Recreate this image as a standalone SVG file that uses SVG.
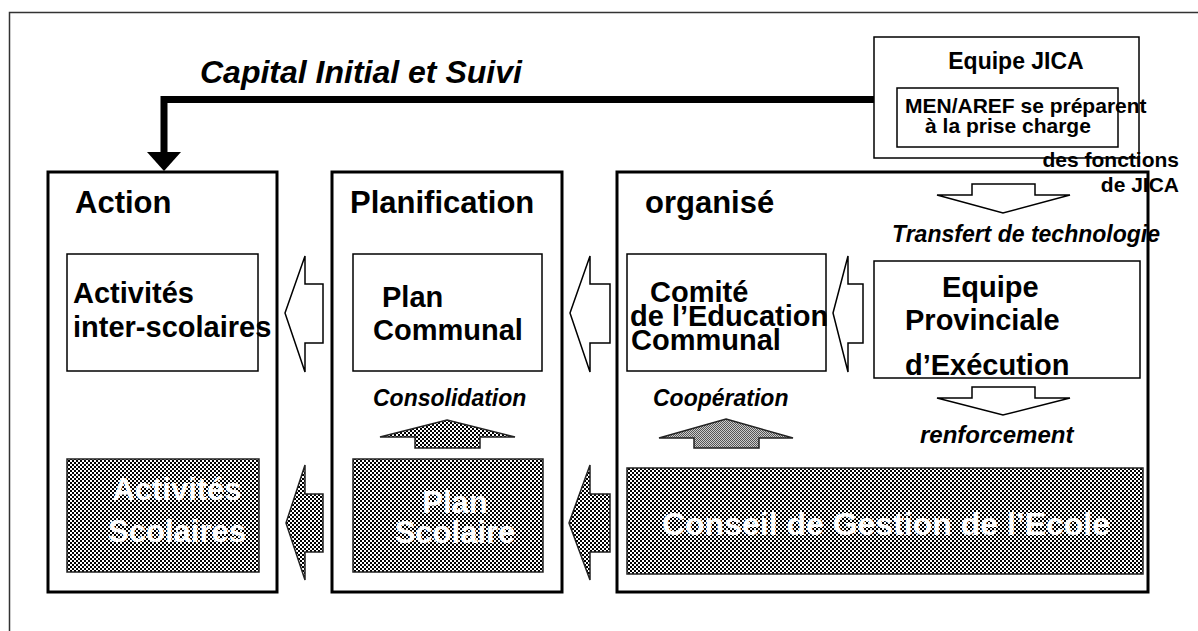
<svg xmlns="http://www.w3.org/2000/svg" width="1198" height="631" viewBox="0 0 1198 631">
  <defs>
    <!-- coarse black/white checker used for the "school" level -->
    <pattern id="checker" width="4" height="4" patternUnits="userSpaceOnUse">
      <rect width="4" height="4" fill="#fff"/>
      <rect x="0" y="0" width="2" height="2" fill="#000"/>
      <rect x="2" y="2" width="2" height="2" fill="#000"/>
    </pattern>
    <!-- fine grey stipple -->
    <pattern id="stipple" width="2" height="2" patternUnits="userSpaceOnUse">
      <rect width="2" height="2" fill="#ccc"/>
      <rect x="0" y="0" width="1" height="1" fill="#555"/>
      <rect x="1" y="1" width="1" height="1" fill="#555"/>
    </pattern>
  </defs>
  <style>
    text { font-family: "Liberation Sans", Arial, sans-serif; font-weight: bold; fill: #000; }
    .head { font-size: 31px; }
    .node { font-size: 29px; }
    .lab { font-size: 23px; font-style: italic; }
    .jica { font-size: 21px; }
    .white { fill: #fff; font-size: 31px; }
    .frame { fill: none; stroke: #000; stroke-width: 3; }
    .box { fill: #fff; stroke: #000; stroke-width: 1.5; }
    .hatch { fill: url(#checker); stroke: #222; stroke-width: 1.5; }
    .hollow { fill: #fff; stroke: #000; stroke-width: 1.5; stroke-linejoin: miter; }
  </style>

  <rect width="1198" height="631" fill="#fff"/>
  <!-- page border -->
  <path d="M9.5,631 V12.5 H1198" fill="none" stroke="#333" stroke-width="1.5"/>

  <!-- level columns -->
  <g id="col-action">
    <rect class="frame" x="48" y="172" width="229" height="420"/>
    <text class="head" x="75" y="213">Action</text>
  </g>
  <g id="col-planification">
    <rect class="frame" x="332" y="172" width="230" height="420"/>
    <text class="head" x="350" y="213">Planification</text>
  </g>
  <g id="col-organise">
    <rect class="frame" x="617" y="172" width="531" height="420"/>
    <text class="head" x="645" y="213">organisé</text>
  </g>

  <!-- JICA team -->
  <g id="jica">
    <rect class="box" x="874" y="37" width="265" height="121"/>
    <text class="jica" x="1016" y="69" text-anchor="middle" style="font-size:23px">Equipe JICA</text>
    <rect class="box" x="897" y="88" width="221" height="59"/>
    <text class="jica" x="905" y="113">MEN/AREF se préparent</text>
    <text class="jica" x="1008" y="133" text-anchor="middle">à la prise charge</text>
    <text class="jica" x="1179" y="167" text-anchor="end">des fonctions</text>
    <text class="jica" x="1179" y="192" text-anchor="end">de JICA</text>
  </g>

  <!-- upper row -->
  <g id="activites-inter">
    <rect class="box" x="67" y="254" width="191" height="117"/>
    <text class="node" x="73" y="303">Activités</text>
    <text class="node" x="73" y="337">inter-scolaires</text>
  </g>
  <g id="plan-communal">
    <rect class="box" x="353" y="254" width="189" height="117"/>
    <text class="node" x="382" y="307">Plan</text>
    <text class="node" x="373" y="340">Communal</text>
  </g>
  <g id="comite">
    <rect class="box" x="627" y="254" width="199" height="117"/>
    <text class="node" x="650" y="302">Comité</text>
    <text class="node" x="630" y="326">de l’Education</text>
    <text class="node" x="631" y="350">Communal</text>
  </g>
  <g id="equipe-provinciale">
    <rect class="box" x="874" y="261" width="266" height="117"/>
    <text class="node" x="942" y="297">Equipe</text>
    <text class="node" x="905" y="330">Provinciale</text>
    <text class="node" x="905" y="375">d’Exécution</text>
  </g>

  <!-- lower row -->
  <g id="activites-scolaires">
    <rect class="hatch" x="67" y="459" width="192" height="113"/>
    <text class="white" x="177" y="500" text-anchor="middle">Activités</text>
    <text class="white" x="177" y="542" text-anchor="middle">Scolaires</text>
  </g>
  <g id="plan-scolaire">
    <rect class="hatch" x="353" y="459" width="190" height="113"/>
    <text class="white" x="455" y="513" text-anchor="middle">Plan</text>
    <text class="white" x="455" y="543" text-anchor="middle">Scolaire</text>
  </g>
  <g id="conseil">
    <rect class="hatch" x="627" y="468" width="516" height="106"/>
    <text class="white" x="886" y="535" text-anchor="middle" style="font-size:32px">Conseil de Gestion de l’Ecole</text>
  </g>

  <!-- connectors -->
  <g id="connectors">
    <!-- Capital Initial et Suivi -->
    <path d="M874,99.5 H164 V154" fill="none" stroke="#000" stroke-width="7"/>
    <polygon points="147,152 181,152 164,171" fill="#000"/>
    <text class="lab" x="200" y="83" style="font-size:32px">Capital Initial et Suivi</text>

    <!-- hollow left arrows, upper row -->
    <polygon class="hollow" points="285,313 305,256 305,284 323,284 323,343 305,343 305,372"/>
    <polygon class="hollow" points="570,313 590,256 590,284 610,284 610,343 590,343 590,372"/>
    <polygon class="hollow" points="833,313 848,256 848,284 863,284 863,343 848,343 848,372"/>

    <!-- hatched left arrows, lower row -->
    <polygon class="hatch" points="286,523 305,465 305,494 323,494 323,552 305,552 305,580"/>
    <polygon class="hatch" points="569,523 590,465 590,494 610,494 610,552 590,552 590,580"/>

    <!-- upward arrows -->
    <polygon class="hatch" points="447,420 515,437 480,437 480,448 415,448 415,437 380,437"/>
    <text class="lab" x="373" y="406">Consolidation</text>
    <polygon points="726,419 793,438 759,438 759,448 694,448 694,438 659,438" fill="url(#stipple)" stroke="#222" stroke-width="1.5"/>
    <text class="lab" x="653" y="406">Coopération</text>

    <!-- downward arrows -->
    <polygon class="hollow" points="972,184 1035,184 1035,195 1070,195 1003,213 937,195 972,195"/>
    <text class="lab" x="892" y="242">Transfert de technologie</text>
    <polygon class="hollow" points="972,387 1035,387 1035,398 1070,398 1003,415 937,398 972,398"/>
    <text class="lab" x="920" y="443" style="font-size:24px">renforcement</text>
  </g>
</svg>
